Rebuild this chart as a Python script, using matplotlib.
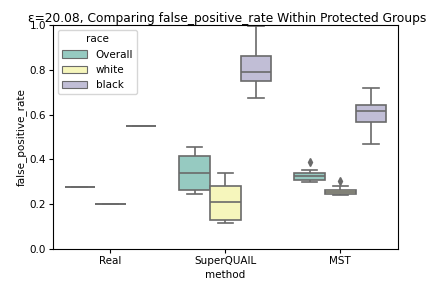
import numpy as np
import pandas as pd
import matplotlib
matplotlib.use("Agg")
import matplotlib.pyplot as plt
import seaborn as sns

# ── data ──────────────────────────────────────────────────────────────────
methods = ["Real", "SuperQUAIL", "MST"]
races = ["Overall", "white", "black"]

real_overall = [0.275]
real_white = [0.20]
real_black = [0.55]

sq_overall = [0.245, 0.255, 0.265, 0.30, 0.34, 0.38, 0.415, 0.43, 0.455]
sq_white = [0.115, 0.12, 0.13, 0.17, 0.21, 0.25, 0.28, 0.31, 0.34]
sq_black = [0.675, 0.71, 0.75, 0.77, 0.79, 0.82, 0.86, 0.93, 0.995]

mst_overall = [0.30, 0.305, 0.31, 0.318, 0.325, 0.332, 0.34, 0.355, 0.39]
mst_white = [0.24, 0.243, 0.246, 0.25, 0.255, 0.26, 0.264, 0.28, 0.302]
mst_black = [0.47, 0.52, 0.565, 0.59, 0.615, 0.63, 0.645, 0.68, 0.72]

groups = {
    ("Real", "Overall"): real_overall,
    ("Real", "white"): real_white,
    ("Real", "black"): real_black,
    ("SuperQUAIL", "Overall"): sq_overall,
    ("SuperQUAIL", "white"): sq_white,
    ("SuperQUAIL", "black"): sq_black,
    ("MST", "Overall"): mst_overall,
    ("MST", "white"): mst_white,
    ("MST", "black"): mst_black,
}

rows = []
for (m, r), vals in groups.items():
    for v in vals:
        rows.append({"method": m, "race": r, "false_positive_rate": v})
df = pd.DataFrame(rows)

plt.rcParams["font.size"] = 7.5
fig = plt.figure(figsize=(4.31, 2.82), dpi=100)
ax = fig.add_axes([0.123, 0.117, 0.8, 0.794])

sns.boxplot(data=df, x="method", y="false_positive_rate", hue="race",
            order=methods, hue_order=races, palette="Set3", ax=ax,
            linewidth=1.2,
            flierprops=dict(marker="d", markersize=4,
                            markerfacecolor="#6a6a6a",
                            markeredgecolor="#6a6a6a"))

ax.set_ylim(0, 1.0)
ax.set_yticks(np.arange(0, 1.01, 0.2))
ax.tick_params(length=3, pad=2)
ax.set_title("ε=20.08, Comparing false_positive_rate Within Protected Groups",
             fontsize=8.8, pad=2, x=0.505)
ax.set_xlabel("method", labelpad=3)
ax.set_ylabel("false_positive_rate", labelpad=2)
leg = ax.legend(title="race", loc="upper left", fontsize=7.5,
                title_fontsize=7.5, handlelength=2.4)
for h in leg.legend_handles:
    h.set_linewidth(0.8)

fig.savefig("out.png", dpi=100)
